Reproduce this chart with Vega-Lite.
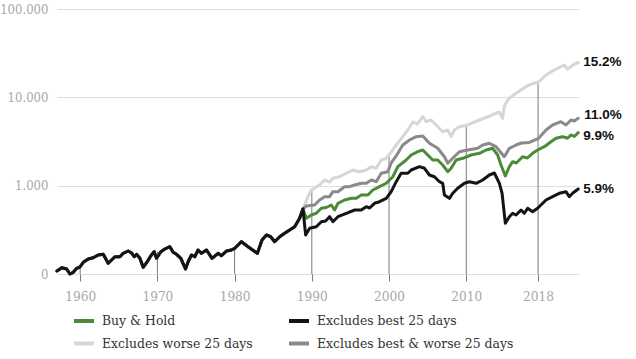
{
  "$schema": "https://vega.github.io/schema/vega-lite/v6.json",
  "width": 522,
  "height": 265,
  "autosize": {"type": "none"},
  "padding": {"left": 57, "top": 9, "right": 57, "bottom": 85},
  "background": "white",
  "config": {
    "view": {"stroke": null},
    "font": "DejaVu Serif Condensed, DejaVu Serif",
    "legend": {
      "orient": "none", "legendX": 15, "legendY": 300, "columns": 2, "direction": "horizontal",
      "symbolType": "stroke", "symbolSize": 400, "symbolStrokeWidth": 4,
      "labelFont": "DejaVu Serif Condensed, DejaVu Serif", "labelFontSize": 13.8, "labelColor": "#333333",
      "labelOffset": 6, "columnPadding": 28, "rowPadding": 2.5, "title": null, "labelLimit": 400
    }
  },
  "datasets": {
    "lines": [
      {"series":"all","year":1957.00,"value":108.1},{"series":"all","year":1957.61,"value":117.8},{"series":"all","year":1958.25,"value":113.9},{"series":"all","year":1958.68,"value":100},{"series":"all","year":1959.11,"value":104.5},{"series":"all","year":1959.55,"value":116.0},{"series":"all","year":1959.97,"value":120.0},{"series":"all","year":1960.40,"value":135.7},{"series":"all","year":1961.05,"value":147.9},{"series":"all","year":1961.69,"value":152.9},{"series":"all","year":1962.34,"value":164.1},{"series":"all","year":1962.99,"value":167.1},{"series":"all","year":1963.63,"value":132.2},{"series":"all","year":1964.07,"value":144.0},{"series":"all","year":1964.50,"value":157.0},{"series":"all","year":1965.15,"value":157.0},{"series":"all","year":1965.57,"value":171.5},{"series":"all","year":1966.22,"value":182.1},{"series":"all","year":1966.66,"value":172.9},{"series":"all","year":1967.00,"value":157.0},{"series":"all","year":1967.31,"value":167.1},{"series":"all","year":1967.73,"value":150.6},{"series":"all","year":1968.16,"value":119.1},{"series":"all","year":1968.60,"value":134.3},{"series":"all","year":1969.16,"value":161.1},{"series":"all","year":1969.58,"value":178.8},{"series":"all","year":1969.89,"value":150.6},{"series":"all","year":1970.45,"value":178.8},{"series":"all","year":1970.97,"value":191.9},{"series":"all","year":1971.61,"value":203.7},{"series":"all","year":1972.04,"value":176.1},{"series":"all","year":1972.48,"value":167.1},{"series":"all","year":1973.04,"value":150.6},{"series":"all","year":1973.64,"value":113.9},{"series":"all","year":1973.98,"value":137.8},{"series":"all","year":1974.42,"value":164.1},{"series":"all","year":1974.85,"value":157.0},{"series":"all","year":1975.27,"value":186.9},{"series":"all","year":1975.71,"value":171.5},{"series":"all","year":1976.36,"value":186.9},{"series":"all","year":1977.08,"value":150.6},{"series":"all","year":1977.86,"value":171.5},{"series":"all","year":1978.30,"value":161.1},{"series":"all","year":1978.95,"value":182.1},{"series":"all","year":1979.59,"value":186.9},{"series":"all","year":1980.02,"value":195.4},{"series":"all","year":1980.45,"value":213.0},{"series":"all","year":1980.89,"value":232.1},{"series":"all","year":1981.74,"value":203.7},{"series":"all","year":1982.95,"value":171.5},{"series":"all","year":1983.55,"value":242.6},{"series":"all","year":1984.12,"value":276.4},{"series":"all","year":1984.67,"value":264.4},{"series":"all","year":1985.19,"value":232.1},{"series":"all","year":1985.84,"value":264.4},{"series":"all","year":1986.48,"value":288.9},{"series":"all","year":1987.13,"value":314.9},{"series":"all","year":1987.78,"value":343.2},{"series":"all","year":1988.42,"value":427.1},{"series":"all","year":1988.85,"value":545},
      {"series":"best","year":1989.20,"value":276.4},{"series":"best","year":1989.72,"value":329.2},{"series":"best","year":1990.58,"value":343.2},{"series":"best","year":1991.23,"value":390.9},{"series":"best","year":1991.79,"value":398.1},{"series":"best","year":1992.30,"value":445.4},{"series":"best","year":1992.73,"value":390.9},{"series":"best","year":1993.38,"value":445.4},{"series":"best","year":1994.46,"value":486.7},{"series":"best","year":1995.54,"value":530.3},{"series":"best","year":1996.40,"value":530.3},{"series":"best","year":1997.05,"value":578.0},{"series":"best","year":1997.48,"value":558.7},{"series":"best","year":1998.12,"value":631.5},{"series":"best","year":1998.77,"value":658.4},{"series":"best","year":1999.64,"value":719.5},{"series":"best","year":2000.28,"value":854.6},{"series":"best","year":2000.93,"value":1109},{"series":"best","year":2001.57,"value":1381},{"series":"best","year":2002.43,"value":1381},{"series":"best","year":2002.87,"value":1505},{"series":"best","year":2003.94,"value":1640},{"series":"best","year":2004.59,"value":1573},{"series":"best","year":2005.23,"value":1321},{"series":"best","year":2005.88,"value":1263},{"series":"best","year":2006.53,"value":1109},{"series":"best","year":2006.95,"value":1064},{"series":"best","year":2007.17,"value":784.1},{"series":"best","year":2007.82,"value":719.5},{"series":"best","year":2008.25,"value":819.7},{"series":"best","year":2008.89,"value":933.8},{"series":"best","year":2009.76,"value":1064},{"series":"best","year":2010.41,"value":1109},{"series":"best","year":2011.27,"value":1064},{"series":"best","year":2012.13,"value":1159},{"series":"best","year":2012.99,"value":1321},{"series":"best","year":2013.64,"value":1391},{"series":"best","year":2014.29,"value":1064},{"series":"best","year":2014.64,"value":819.7},{"series":"best","year":2015.06,"value":375.0},{"series":"best","year":2015.58,"value":445.4},{"series":"best","year":2016.01,"value":486.7},{"series":"best","year":2016.45,"value":465.6},{"series":"best","year":2017.09,"value":530.3},{"series":"best","year":2017.52,"value":486.7},{"series":"best","year":2017.95,"value":554.4},{"series":"best","year":2018.59,"value":507.4},{"series":"best","year":2019.24,"value":554.4},{"series":"best","year":2020.33,"value":688.4},{"series":"best","year":2021.18,"value":750.1},{"series":"best","year":2022.05,"value":819.7},{"series":"best","year":2022.91,"value":854.6},{"series":"best","year":2023.34,"value":750.1},{"series":"best","year":2023.77,"value":819.7},{"series":"best","year":2024.5,"value":916.9},
      {"series":"bh","year":1989.29,"value":427.1},{"series":"bh","year":1989.94,"value":465.6},{"series":"bh","year":1990.58,"value":486.7},{"series":"bh","year":1991.23,"value":554.4},{"series":"bh","year":1991.88,"value":566.1},{"series":"bh","year":1992.52,"value":604.1},{"series":"bh","year":1992.95,"value":530.3},{"series":"bh","year":1993.38,"value":631.5},{"series":"bh","year":1994.24,"value":688.4},{"series":"bh","year":1995.11,"value":719.5},{"series":"bh","year":1995.76,"value":719.5},{"series":"bh","year":1996.40,"value":784.1},{"series":"bh","year":1997.26,"value":784.1},{"series":"bh","year":1997.90,"value":893.3},{"series":"bh","year":1998.77,"value":973.6},{"series":"bh","year":1999.64,"value":1064},{"series":"bh","year":2000.49,"value":1263},{"series":"bh","year":2001.14,"value":1640},{"series":"bh","year":2002.22,"value":1953},{"series":"bh","year":2002.87,"value":2224},{"series":"bh","year":2003.72,"value":2424},{"series":"bh","year":2004.37,"value":2534},{"series":"bh","year":2005.01,"value":2224},{"series":"bh","year":2005.66,"value":1953},{"series":"bh","year":2006.31,"value":1953},{"series":"bh","year":2006.95,"value":1714},{"series":"bh","year":2007.60,"value":1439},{"series":"bh","year":2008.04,"value":1573},{"series":"bh","year":2008.69,"value":1953},{"series":"bh","year":2009.54,"value":2041},{"series":"bh","year":2010.63,"value":2224},{"series":"bh","year":2011.70,"value":2325},{"series":"bh","year":2012.57,"value":2534},{"series":"bh","year":2013.42,"value":2649},{"series":"bh","year":2014.07,"value":2224},{"series":"bh","year":2014.50,"value":1714},{"series":"bh","year":2015.06,"value":1287},{"series":"bh","year":2015.58,"value":1640},{"series":"bh","year":2016.01,"value":1868},{"series":"bh","year":2016.48,"value":1806},{"series":"bh","year":2017.30,"value":2128},{"series":"bh","year":2017.91,"value":2057},{"series":"bh","year":2018.59,"value":2325},{"series":"bh","year":2019.24,"value":2534},{"series":"bh","year":2020.11,"value":2762},{"series":"bh","year":2020.97,"value":3147},{"series":"bh","year":2021.62,"value":3438},{"series":"bh","year":2022.47,"value":3585},{"series":"bh","year":2023.12,"value":3438},{"series":"bh","year":2023.56,"value":3747},{"series":"bh","year":2023.99,"value":3603},{"series":"bh","year":2024.5,"value":3979},
      {"series":"both","year":1989.29,"value":588.6},{"series":"both","year":1990.36,"value":604.1},{"series":"both","year":1991.01,"value":688.4},{"series":"both","year":1991.66,"value":750.1},{"series":"both","year":1992.30,"value":750.1},{"series":"both","year":1992.73,"value":854.6},{"series":"both","year":1993.38,"value":854.6},{"series":"both","year":1994.24,"value":973.6},{"series":"both","year":1994.89,"value":973.6},{"series":"both","year":1995.54,"value":1018},{"series":"both","year":1996.40,"value":1064},{"series":"both","year":1997.05,"value":1064},{"series":"both","year":1997.70,"value":1159},{"series":"both","year":1998.34,"value":1109},{"series":"both","year":1998.99,"value":1381},{"series":"both","year":1999.84,"value":1439},{"series":"both","year":2000.28,"value":1806},{"series":"both","year":2000.93,"value":2167},{"series":"both","year":2001.78,"value":2887},{"series":"both","year":2002.65,"value":3289},{"series":"both","year":2003.51,"value":3585},{"series":"both","year":2004.37,"value":3650},{"series":"both","year":2005.23,"value":3018},{"series":"both","year":2006.31,"value":2649},{"series":"both","year":2007.17,"value":2128},{"series":"both","year":2007.60,"value":1792},{"series":"both","year":2008.25,"value":2041},{"series":"both","year":2009.11,"value":2424},{"series":"both","year":2010.19,"value":2534},{"series":"both","year":2011.48,"value":2649},{"series":"both","year":2012.13,"value":2887},{"series":"both","year":2012.99,"value":3018},{"series":"both","year":2013.86,"value":2762},{"series":"both","year":2014.93,"value":2128},{"series":"both","year":2015.58,"value":2649},{"series":"both","year":2016.45,"value":2887},{"series":"both","year":2017.13,"value":3042},{"series":"both","year":2018.17,"value":3082},{"series":"both","year":2019.37,"value":3438},{"series":"both","year":2020.33,"value":4269},{"series":"both","year":2021.18,"value":4863},{"series":"both","year":2022.26,"value":5298},{"series":"both","year":2022.91,"value":4863},{"series":"both","year":2023.56,"value":5538},{"series":"both","year":2023.99,"value":5396},{"series":"both","year":2024.5,"value":5789},
      {"series":"worse","year":1989.50,"value":750.1},{"series":"worse","year":1989.94,"value":893.3},{"series":"worse","year":1991.01,"value":1018},{"series":"worse","year":1991.66,"value":1159},{"series":"worse","year":1992.30,"value":1100},{"series":"worse","year":1992.73,"value":1212},{"series":"worse","year":1993.60,"value":1263},{"series":"worse","year":1994.46,"value":1381},{"series":"worse","year":1995.32,"value":1505},{"series":"worse","year":1996.18,"value":1439},{"series":"worse","year":1997.05,"value":1505},{"series":"worse","year":1997.70,"value":1640},{"series":"worse","year":1998.34,"value":1573},{"series":"worse","year":1998.99,"value":1953},{"series":"worse","year":1999.64,"value":2041},{"series":"worse","year":2000.28,"value":2405},{"series":"worse","year":2000.93,"value":2887},{"series":"worse","year":2001.78,"value":3585},{"series":"worse","year":2002.43,"value":4269},{"series":"worse","year":2003.08,"value":5257},{"series":"worse","year":2003.68,"value":4990},{"series":"worse","year":2004.37,"value":6067},{"series":"worse","year":2004.81,"value":5298},{"series":"worse","year":2005.45,"value":5538},{"series":"worse","year":2006.10,"value":4863},{"series":"worse","year":2006.95,"value":4084},{"series":"worse","year":2007.60,"value":4269},{"series":"worse","year":2008.04,"value":3585},{"series":"worse","year":2008.47,"value":4269},{"series":"worse","year":2009.11,"value":4652},{"series":"worse","year":2010.19,"value":4863},{"series":"worse","year":2011.05,"value":5257},{"series":"worse","year":2011.70,"value":5538},{"series":"worse","year":2012.74,"value":5989},{"series":"worse","year":2013.64,"value":6476},{"series":"worse","year":2014.29,"value":6824},{"series":"worse","year":2014.71,"value":5789},{"series":"worse","year":2014.93,"value":7980},{"series":"worse","year":2015.36,"value":9330},{"series":"worse","year":2015.80,"value":10090},{"series":"worse","year":2016.45,"value":11110},{"series":"worse","year":2017.09,"value":12110},{"series":"worse","year":2017.74,"value":13197},{"series":"worse","year":2018.43,"value":14160},{"series":"worse","year":2019.37,"value":14920},{"series":"worse","year":2020.33,"value":17900},{"series":"worse","year":2021.01,"value":19510},{"series":"worse","year":2021.83,"value":21320},{"series":"worse","year":2022.69,"value":23230},{"series":"worse","year":2023.12,"value":20930},{"series":"worse","year":2023.56,"value":22230},{"series":"worse","year":2023.99,"value":23840},{"series":"worse","year":2024.5,"value":24800}
    ],
    "rules": [
      {"year": 1960, "top": 122},
      {"year": 1970, "top": 180},
      {"year": 1980, "top": 200},
      {"year": 1990, "top": 893},
      {"year": 2000, "top": 2300},
      {"year": 2010, "top": 4760},
      {"year": 2019.3, "top": 14650}
    ],
    "ends": [
      {"series": "worse", "year": 2024.5, "value": 24800, "label": "15.2%"},
      {"series": "both", "year": 2024.5, "value": 5789, "label": "11.0%"},
      {"series": "bh", "year": 2024.5, "value": 3979, "label": "9.9%"},
      {"series": "best", "year": 2024.5, "value": 916.9, "label": "5.9%"}
    ]
  },
  "data": {"name": "lines"},
  "encoding": {
    "x": {
      "field": "year", "type": "quantitative",
      "scale": {"domain": [1957, 2024.6], "nice": false, "zero": false},
      "axis": {
        "values": [1960, 1970, 1980, 1990, 2000, 2010, 2019.3],
        "labelExpr": "datum.value > 2015 ? '2018' : '' + datum.value",
        "domain": false, "ticks": true, "tickColor": "#7a7a7a", "tickSize": 7, "tickWidth": 1,
        "grid": false, "labelColor": "#a8a8a8", "labelFontSize": 13.5, "labelPadding": 8,
        "labelFont": "DejaVu Serif Condensed, DejaVu Serif", "labelFlush": false, "title": null
      }
    },
    "y": {
      "field": "value", "type": "quantitative",
      "scale": {"type": "log", "domain": [100, 100000], "nice": false},
      "axis": {
        "values": [100, 1000, 10000, 100000],
        "labelExpr": "datum.value == 100 ? '0' : datum.value == 1000 ? '1.000' : datum.value == 10000 ? '10.000' : '100.000'",
        "domain": false, "ticks": false, "grid": true, "gridColor": "#dedede", "gridWidth": 1,
        "labelColor": "#a8a8a8", "labelFontSize": 13, "labelPadding": 9,
        "labelFont": "DejaVu Serif Condensed, DejaVu Serif", "labelFlush": false, "title": null
      }
    }
  },
  "layer": [
    {
      "data": {"name": "rules"},
      "mark": {"type": "rule", "color": "#7a7a7a", "strokeWidth": 1},
      "encoding": {
        "y": {"field": "top", "type": "quantitative"},
        "y2": {"datum": 100}
      }
    },
    {
      "transform": [{"filter": "datum.series == 'all' || datum.series == 'worse'"}],
      "mark": {"type": "line", "strokeWidth": 3, "strokeJoin": "round", "strokeCap": "round"},
      "encoding": {
        "color": {"datum": "Excludes worse 25 days", "type": "nominal",
          "scale": {"domain": ["Buy & Hold", "Excludes best 25 days", "Excludes worse 25 days", "Excludes best & worse 25 days"], "range": ["#4b8b37", "#141414", "#d6d6d6", "#8a8a8a"]}}
      }
    },
    {
      "transform": [{"filter": "datum.series == 'all' || datum.series == 'both'"}],
      "mark": {"type": "line", "strokeWidth": 3, "strokeJoin": "round", "strokeCap": "round"},
      "encoding": {"color": {"datum": "Excludes best & worse 25 days", "type": "nominal"}}
    },
    {
      "transform": [{"filter": "datum.series == 'all' || datum.series == 'bh'"}],
      "mark": {"type": "line", "strokeWidth": 3, "strokeJoin": "round", "strokeCap": "round"},
      "encoding": {"color": {"datum": "Buy & Hold", "type": "nominal"}}
    },
    {
      "transform": [{"filter": "datum.series == 'all' || datum.series == 'best'"}],
      "mark": {"type": "line", "strokeWidth": 3, "strokeJoin": "round", "strokeCap": "round"},
      "encoding": {"color": {"datum": "Excludes best 25 days", "type": "nominal"}}
    },
    {
      "data": {"name": "ends"},
      "transform": [{"filter": "datum.series == 'worse' || datum.series == 'best'"}],
      "mark": {"type": "text", "align": "left", "baseline": "middle", "dx": 5, "font": "Liberation Sans", "fontWeight": "bold", "fontSize": 13.5, "color": "#111111"},
      "encoding": {"text": {"field": "label"}}
    },
    {
      "data": {"name": "ends"},
      "transform": [{"filter": "datum.series == 'both'"}],
      "mark": {"type": "text", "align": "left", "baseline": "middle", "dx": 6, "dy": -3, "font": "Liberation Sans", "fontWeight": "bold", "fontSize": 13.5, "color": "#111111"},
      "encoding": {"text": {"field": "label"}}
    },
    {
      "data": {"name": "ends"},
      "transform": [{"filter": "datum.series == 'bh'"}],
      "mark": {"type": "text", "align": "left", "baseline": "middle", "dx": 5, "dy": 3, "font": "Liberation Sans", "fontWeight": "bold", "fontSize": 13.5, "color": "#111111"},
      "encoding": {"text": {"field": "label"}}
    }
  ]
}
